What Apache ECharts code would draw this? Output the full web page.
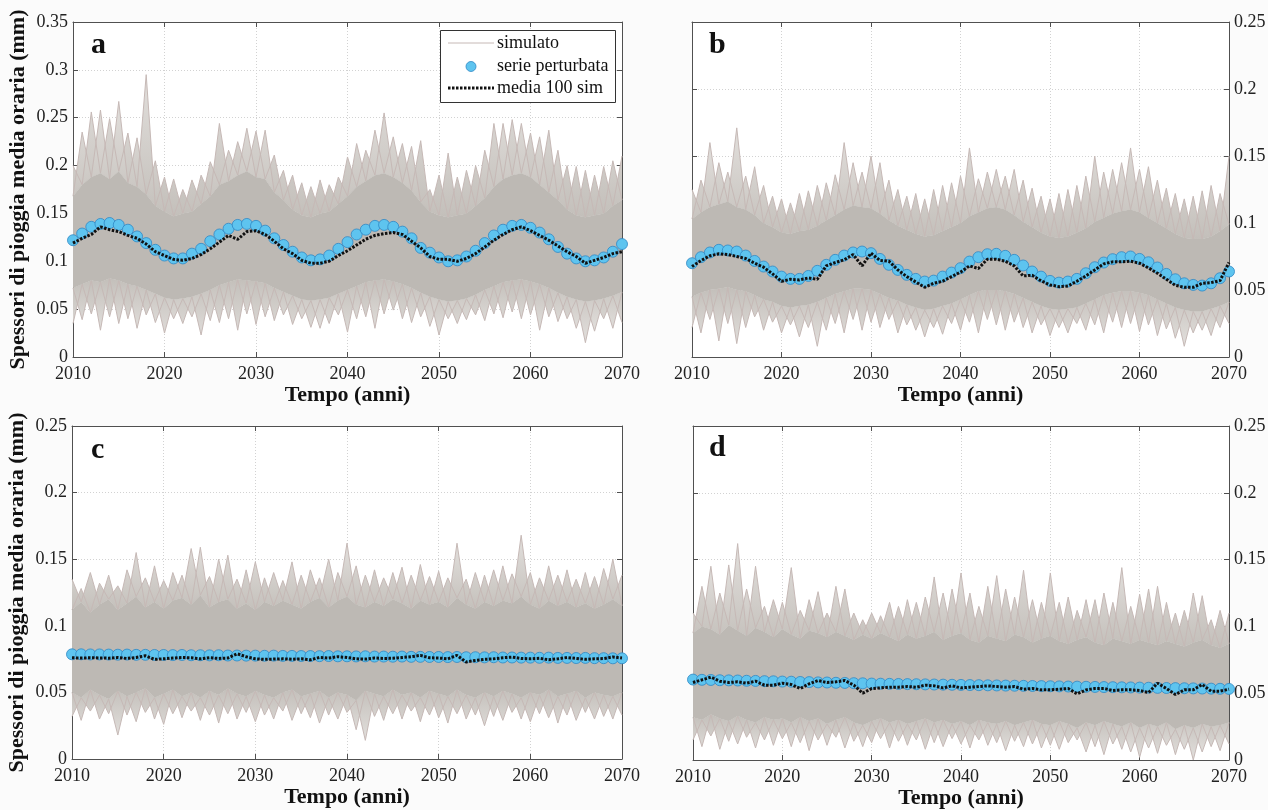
<!DOCTYPE html>
<html>
<head>
<meta charset="utf-8">
<script src="https://cdn.jsdelivr.net/npm/echarts@6/dist/echarts.min.js"></script>
<style>
html,body{margin:0;padding:0;background:#fbfbfb;}
#chart{width:1268px;height:810px;}
</style>
</head>
<body>
<div id="chart"></div>
<script>
// Years on the horizontal axis
const years = [
  2010,2011,2012,2013,2014,2015,2016,2017,2018,2019,
  2020,2021,2022,2023,2024,2025,2026,2027,2028,2029,
  2030,2031,2032,2033,2034,2035,2036,2037,2038,2039,
  2040,2041,2042,2043,2044,2045,2046,2047,2048,2049,
  2050,2051,2052,2053,2054,2055,2056,2057,2058,2059,
  2060,2061,2062,2063,2064,2065,2066,2067,2068,2069,2070
];

// ---- Panel a ----
const aSerie = [
  0.122,0.129,0.136,0.139,0.140,0.138,0.133,0.126,0.119,0.112,
  0.106,0.103,0.103,0.108,0.113,0.121,0.128,0.134,0.138,0.139,
  0.137,0.132,0.124,0.117,0.110,0.104,0.101,0.102,0.106,0.113,
  0.120,0.128,0.133,0.137,0.138,0.136,0.131,0.124,0.114,0.109,
  0.104,0.100,0.101,0.105,0.111,0.119,0.127,0.133,0.137,0.138,
  0.135,0.130,0.123,0.115,0.108,0.103,0.100,0.101,0.104,0.110,0.118
];
const aMedia = [
  0.119,0.124,0.128,0.136,0.133,0.131,0.127,0.124,0.118,0.110,
  0.106,0.102,0.101,0.103,0.107,0.113,0.120,0.127,0.123,0.131,
  0.132,0.128,0.121,0.113,0.108,0.101,0.098,0.098,0.100,0.106,
  0.111,0.117,0.123,0.127,0.129,0.130,0.128,0.121,0.114,0.105,
  0.102,0.102,0.100,0.103,0.108,0.115,0.122,0.128,0.133,0.136,
  0.132,0.127,0.122,0.116,0.110,0.105,0.098,0.101,0.104,0.108,0.110
];
const aPicco = [
  0.200,0.235,0.256,0.258,0.249,0.267,0.234,0.229,0.295,0.205,
  0.188,0.186,0.175,0.185,0.190,0.204,0.244,0.216,0.225,0.239,
  0.236,0.237,0.211,0.195,0.190,0.182,0.178,0.185,0.180,0.188,
  0.209,0.223,0.216,0.237,0.255,0.230,0.223,0.220,0.226,0.175,
  0.190,0.213,0.188,0.195,0.200,0.216,0.244,0.244,0.248,0.244,
  0.234,0.230,0.237,0.216,0.200,0.199,0.195,0.190,0.199,0.205,0.210
];
const aCoreHi = [
  0.168,0.180,0.188,0.192,0.186,0.194,0.182,0.178,0.170,0.158,
  0.152,0.147,0.150,0.152,0.160,0.168,0.180,0.184,0.190,0.194,
  0.188,0.186,0.172,0.164,0.154,0.148,0.146,0.150,0.152,0.160,
  0.168,0.178,0.184,0.190,0.192,0.188,0.182,0.174,0.162,0.152,
  0.148,0.146,0.148,0.150,0.158,0.166,0.178,0.186,0.190,0.192,
  0.188,0.180,0.172,0.164,0.154,0.148,0.146,0.148,0.150,0.158,0.164
];
const aCoreLo = [
  0.072,0.076,0.080,0.078,0.082,0.080,0.076,0.074,0.070,0.066,
  0.062,0.060,0.061,0.063,0.066,0.070,0.075,0.078,0.081,0.080,
  0.079,0.077,0.072,0.068,0.064,0.060,0.059,0.060,0.062,0.066,
  0.070,0.074,0.078,0.080,0.081,0.079,0.076,0.072,0.067,0.063,
  0.060,0.058,0.059,0.061,0.065,0.070,0.074,0.078,0.080,0.081,
  0.079,0.076,0.072,0.067,0.063,0.060,0.058,0.059,0.061,0.064,0.068
];
const aFondo = [
  0.035,0.039,0.045,0.028,0.042,0.035,0.040,0.030,0.044,0.036,
  0.025,0.040,0.035,0.042,0.023,0.038,0.036,0.040,0.028,0.045,
  0.034,0.042,0.038,0.044,0.034,0.040,0.031,0.030,0.035,0.044,
  0.026,0.040,0.042,0.030,0.045,0.049,0.040,0.036,0.042,0.032,
  0.023,0.040,0.035,0.039,0.044,0.038,0.045,0.041,0.047,0.040,
  0.044,0.028,0.042,0.037,0.040,0.030,0.015,0.027,0.040,0.030,0.036
];

// ---- Panel b ----
const bSerie = [
  0.0700,0.0745,0.0780,0.0800,0.0795,0.0787,0.0757,0.0717,0.0675,0.0638,
  0.0600,0.0583,0.0583,0.0605,0.0643,0.0688,0.0725,0.0757,0.0780,0.0787,
  0.0775,0.0732,0.0688,0.0650,0.0613,0.0583,0.0563,0.0570,0.0600,0.0630,
  0.0663,0.0712,0.0745,0.0767,0.0770,0.0755,0.0725,0.0683,0.0638,0.0600,
  0.0568,0.0555,0.0563,0.0583,0.0625,0.0670,0.0705,0.0730,0.0745,0.0750,
  0.0732,0.0707,0.0668,0.0620,0.0580,0.0550,0.0538,0.0533,0.0550,0.0588,0.0638
];
const bMedia = [
  0.0675,0.0720,0.0755,0.0770,0.0765,0.0750,0.0735,0.0700,0.0670,0.0620,
  0.0565,0.0580,0.0575,0.0590,0.0580,0.0680,0.0705,0.0725,0.0765,0.0680,
  0.0775,0.0720,0.0715,0.0650,0.0600,0.0560,0.0520,0.0550,0.0565,0.0600,
  0.0633,0.0680,0.0660,0.0730,0.0730,0.0715,0.0680,0.0605,0.0610,0.0568,
  0.0538,0.0525,0.0530,0.0565,0.0605,0.0650,0.0695,0.0710,0.0710,0.0715,
  0.0700,0.0665,0.0625,0.0580,0.0535,0.0520,0.0520,0.0550,0.0555,0.0570,0.0705
];
const bPicco = [
  0.125,0.132,0.160,0.145,0.138,0.171,0.135,0.142,0.128,0.120,
  0.118,0.115,0.122,0.124,0.128,0.130,0.136,0.160,0.145,0.138,
  0.150,0.145,0.132,0.125,0.120,0.122,0.118,0.125,0.128,0.130,
  0.135,0.156,0.133,0.138,0.140,0.135,0.140,0.132,0.126,0.120,
  0.118,0.122,0.125,0.128,0.135,0.150,0.138,0.140,0.145,0.156,
  0.140,0.142,0.132,0.126,0.122,0.118,0.120,0.124,0.128,0.122,0.150
];
const bCoreHi = [
  0.103,0.108,0.112,0.114,0.116,0.112,0.110,0.106,0.100,0.097,
  0.093,0.092,0.094,0.095,0.098,0.102,0.106,0.110,0.113,0.112,
  0.111,0.107,0.102,0.098,0.095,0.092,0.090,0.091,0.094,0.097,
  0.100,0.105,0.108,0.111,0.112,0.110,0.106,0.101,0.097,0.093,
  0.090,0.089,0.090,0.093,0.096,0.101,0.104,0.107,0.109,0.110,
  0.108,0.104,0.100,0.096,0.092,0.089,0.088,0.088,0.090,0.094,0.099
];
const bCoreLo = [
  0.045,0.048,0.050,0.051,0.052,0.050,0.049,0.046,0.043,0.041,
  0.038,0.037,0.038,0.039,0.041,0.044,0.047,0.049,0.051,0.051,
  0.050,0.047,0.044,0.042,0.039,0.037,0.035,0.036,0.038,0.040,
  0.043,0.046,0.049,0.050,0.050,0.049,0.047,0.044,0.041,0.038,
  0.036,0.035,0.036,0.037,0.040,0.043,0.046,0.048,0.049,0.049,
  0.048,0.046,0.043,0.040,0.037,0.035,0.034,0.034,0.036,0.038,0.041
];
const bFondo = [
  0.022,0.018,0.028,0.012,0.025,0.010,0.022,0.030,0.020,0.026,
  0.018,0.024,0.015,0.022,0.008,0.020,0.025,0.018,0.028,0.020,
  0.026,0.022,0.028,0.018,0.024,0.020,0.015,0.022,0.017,0.025,
  0.020,0.026,0.018,0.028,0.024,0.020,0.026,0.022,0.018,0.024,
  0.016,0.022,0.018,0.025,0.020,0.024,0.018,0.026,0.022,0.025,
  0.019,0.024,0.016,0.021,0.014,0.008,0.018,0.020,0.016,0.022,0.025
];

// ---- Panel c ----
const cSerie = [
  0.0786,0.0786,0.0785,0.0785,0.0784,0.0783,0.0784,0.0782,0.0782,0.0781,
  0.0781,0.0780,0.0781,0.0779,0.0779,0.0778,0.0779,0.0777,0.0777,0.0776,
  0.0776,0.0775,0.0776,0.0774,0.0774,0.0773,0.0773,0.0772,0.0773,0.0771,
  0.0771,0.0770,0.0771,0.0769,0.0769,0.0768,0.0769,0.0767,0.0767,0.0766,
  0.0766,0.0765,0.0766,0.0764,0.0764,0.0763,0.0764,0.0762,0.0762,0.0761,
  0.0761,0.0760,0.0761,0.0759,0.0759,0.0758,0.0759,0.0757,0.0757,0.0756,0.0756
];
const cMedia = [
  0.0760,0.0758,0.0760,0.0759,0.0757,0.0762,0.0755,0.0762,0.0775,0.0748,
  0.0752,0.0758,0.0762,0.0760,0.0752,0.0760,0.0755,0.0758,0.0790,0.0768,
  0.0752,0.0748,0.0750,0.0752,0.0749,0.0752,0.0745,0.0762,0.0758,0.0768,
  0.0762,0.0752,0.0750,0.0758,0.0755,0.0756,0.0762,0.0768,0.0778,0.0760,
  0.0758,0.0752,0.0778,0.0728,0.0740,0.0748,0.0752,0.0760,0.0765,0.0755,
  0.0752,0.0756,0.0745,0.0752,0.0762,0.0755,0.0748,0.0752,0.0754,0.0766,0.0758
];
const cPicco = [
  0.135,0.128,0.140,0.132,0.138,0.130,0.142,0.155,0.136,0.145,
  0.134,0.140,0.138,0.158,0.159,0.137,0.150,0.153,0.135,0.142,
  0.148,0.136,0.140,0.134,0.148,0.138,0.142,0.136,0.150,0.140,
  0.162,0.145,0.138,0.142,0.136,0.140,0.144,0.138,0.146,0.137,
  0.141,0.136,0.162,0.135,0.140,0.138,0.142,0.145,0.139,0.168,
  0.140,0.136,0.145,0.138,0.142,0.135,0.140,0.137,0.143,0.150,0.138
];
const cCoreHi = [
  0.112,0.118,0.110,0.116,0.120,0.112,0.117,0.122,0.114,0.118,
  0.113,0.119,0.121,0.116,0.123,0.114,0.118,0.120,0.113,0.117,
  0.112,0.118,0.115,0.119,0.116,0.113,0.118,0.121,0.114,0.119,
  0.122,0.116,0.114,0.118,0.115,0.120,0.117,0.113,0.119,0.116,
  0.118,0.114,0.121,0.116,0.113,0.118,0.115,0.119,0.117,0.122,
  0.116,0.113,0.119,0.115,0.118,0.114,0.117,0.113,0.116,0.120,0.115
];
const cCoreLo = [
  0.050,0.046,0.052,0.048,0.045,0.051,0.047,0.050,0.053,0.046,
  0.049,0.052,0.047,0.050,0.046,0.051,0.048,0.053,0.049,0.047,
  0.051,0.048,0.046,0.050,0.052,0.047,0.049,0.051,0.046,0.050,
  0.048,0.044,0.051,0.049,0.047,0.052,0.048,0.050,0.046,0.051,
  0.049,0.047,0.052,0.048,0.046,0.050,0.047,0.051,0.049,0.046,
  0.050,0.048,0.052,0.047,0.049,0.051,0.046,0.050,0.048,0.047,0.050
];
const cFondo = [
  0.032,0.029,0.036,0.030,0.034,0.018,0.033,0.028,0.035,0.030,
  0.026,0.034,0.031,0.036,0.029,0.033,0.027,0.034,0.030,0.035,
  0.028,0.033,0.030,0.036,0.029,0.034,0.031,0.027,0.033,0.030,
  0.035,0.022,0.014,0.032,0.029,0.034,0.030,0.036,0.028,0.033,
  0.031,0.027,0.034,0.030,0.033,0.025,0.032,0.029,0.035,0.030,
  0.028,0.034,0.031,0.027,0.033,0.029,0.035,0.030,0.032,0.030,0.033
];

// ---- Panel d ----
const dSerie = [
  0.0602,0.0600,0.0599,0.0597,0.0596,0.0595,0.0593,0.0592,0.0590,0.0589,
  0.0587,0.0586,0.0584,0.0583,0.0581,0.0580,0.0578,0.0577,0.0575,0.0574,
  0.0572,0.0571,0.0570,0.0569,0.0568,0.0567,0.0566,0.0565,0.0564,0.0563,
  0.0562,0.0561,0.0560,0.0559,0.0558,0.0557,0.0556,0.0555,0.0554,0.0553,
  0.0552,0.0551,0.0550,0.0549,0.0548,0.0547,0.0546,0.0545,0.0544,0.0543,
  0.0542,0.0541,0.0540,0.0539,0.0538,0.0537,0.0536,0.0535,0.0534,0.0533,0.0532
];
const dMedia = [
  0.0580,0.0600,0.0620,0.0590,0.0580,0.0585,0.0575,0.0590,0.0560,0.0560,
  0.0575,0.0565,0.0535,0.0570,0.0595,0.0580,0.0585,0.0595,0.0560,0.0500,
  0.0535,0.0540,0.0545,0.0545,0.0550,0.0545,0.0560,0.0555,0.0540,0.0555,
  0.0540,0.0545,0.0550,0.0555,0.0550,0.0545,0.0550,0.0530,0.0535,0.0525,
  0.0525,0.0530,0.0535,0.0495,0.0525,0.0535,0.0535,0.0520,0.0525,0.0525,
  0.0520,0.0505,0.0575,0.0535,0.0490,0.0525,0.0525,0.0565,0.0515,0.0515,0.0530
];
const dPicco = [
  0.110,0.130,0.145,0.125,0.146,0.162,0.128,0.145,0.115,0.120,
  0.118,0.144,0.112,0.120,0.126,0.110,0.130,0.128,0.110,0.105,
  0.110,0.108,0.118,0.115,0.120,0.118,0.122,0.137,0.125,0.128,
  0.140,0.125,0.115,0.130,0.138,0.128,0.122,0.142,0.120,0.118,
  0.140,0.118,0.122,0.112,0.120,0.120,0.125,0.118,0.144,0.115,
  0.124,0.128,0.130,0.118,0.110,0.112,0.125,0.123,0.105,0.112,0.110
];
const dCoreHi = [
  0.095,0.100,0.098,0.094,0.101,0.097,0.093,0.099,0.096,0.092,
  0.098,0.094,0.091,0.097,0.095,0.092,0.096,0.093,0.090,0.094,
  0.091,0.095,0.092,0.089,0.094,0.091,0.093,0.096,0.090,0.093,
  0.095,0.090,0.088,0.093,0.091,0.089,0.094,0.092,0.088,0.091,
  0.093,0.089,0.087,0.090,0.092,0.088,0.086,0.091,0.089,0.087,
  0.090,0.088,0.086,0.089,0.087,0.085,0.088,0.090,0.086,0.084,0.087
];
const dCoreLo = [
  0.032,0.030,0.034,0.031,0.029,0.033,0.030,0.028,0.032,0.030,
  0.031,0.028,0.032,0.029,0.031,0.027,0.030,0.032,0.028,0.026,
  0.029,0.031,0.028,0.030,0.027,0.029,0.031,0.028,0.030,0.027,
  0.029,0.026,0.030,0.028,0.027,0.029,0.026,0.028,0.030,0.027,
  0.026,0.029,0.027,0.024,0.028,0.026,0.029,0.027,0.025,0.028,
  0.024,0.027,0.025,0.028,0.023,0.026,0.024,0.027,0.025,0.026,0.028
];
const dFondo = [
  0.015,0.010,0.018,0.008,0.014,0.012,0.017,0.009,0.015,0.011,
  0.016,0.010,0.013,0.007,0.015,0.011,0.017,0.009,0.014,0.010,
  0.013,0.016,0.009,0.014,0.011,0.015,0.008,0.013,0.010,0.016,
  0.012,0.009,0.015,0.011,0.013,0.007,0.014,0.010,0.012,0.009,
  0.011,0.008,0.013,0.015,0.006,0.010,0.004,0.012,0.008,0.006,
  0.002,0.009,0.005,0.011,0.004,0.008,0.000,0.006,0.010,0.007,0.012
];

// Text
const X_TITLE = 'Tempo (anni)';
const Y_TITLE = 'Spessori di pioggia media oraria (mm)';
const LEGEND = ['simulato', 'serie perturbata', 'media 100 sim'];

// Layout and styling of the four panels
const SERIF = '"Liberation Serif","Times New Roman",serif';
const AXIS = '#505050';
const GRIDLINE = '#d2d2d2';
const CORE = '#bdb9b4';
const SPIKE_DENSE = '#c3bfba';
const SPIKE_LIGHT = '#e2dfdc';
const SPIKE_EDGE = '#c6b9b6';
const BLUE = '#5ec4ef';
const BLUE_EDGE = '#2f88c5';

const panels = [
  { id:'a', box:{left:73,  top:22,  width:549, height:335}, yMax:0.35, side:'left',  yTitle:true,
    serie:aSerie, media:aMedia, picco:aPicco, coreHi:aCoreHi, coreLo:aCoreLo, fondo:aFondo, letterAt:[91,60] },
  { id:'b', box:{left:692, top:22,  width:537, height:335}, yMax:0.25, side:'right', yTitle:false,
    serie:bSerie, media:bMedia, picco:bPicco, coreHi:bCoreHi, coreLo:bCoreLo, fondo:bFondo, letterAt:[709,60] },
  { id:'c', box:{left:72,  top:426, width:550, height:333}, yMax:0.25, side:'left',  yTitle:true,
    serie:cSerie, media:cMedia, picco:cPicco, coreHi:cCoreHi, coreLo:cCoreLo, fondo:cFondo, letterAt:[91,465] },
  { id:'d', box:{left:693, top:426, width:536, height:334}, yMax:0.25, side:'right', yTitle:false,
    serie:dSerie, media:dMedia, picco:dPicco, coreHi:dCoreHi, coreLo:dCoreLo, fondo:dFondo, letterAt:[709,463] }
];

const grid = [], xAxis = [], yAxis = [], series = [], graphic = [];

const tickLabel = { fontFamily:SERIF, fontSize:18, color:'#222' };
const hidden = { opacity:0 };

// vertical fade: dense next to the core, light at the extremes
function fade(lightOnTop) {
  const stops = lightOnTop
    ? [{ offset:0, color:SPIKE_LIGHT }, { offset:1, color:SPIKE_DENSE }]
    : [{ offset:0, color:SPIKE_DENSE }, { offset:1, color:SPIKE_LIGHT }];
  return new echarts.graphic.LinearGradient(0, 0, 0, 1, stops);
}

panels.forEach(function (p, g) {
  grid.push(Object.assign({ show:true, backgroundColor:'#ffffff', borderWidth:0, containLabel:false, outerBoundsMode:'none' }, p.box));

  const xBase = {
    gridIndex:g, type:'category', data:years, boundaryGap:false,
    axisLine:{ show:true, onZero:false, lineStyle:{ color:AXIS, width:1 } },
    axisTick:{ show:true, inside:true, interval:9, length:5, lineStyle:{ color:AXIS } }
  };
  xAxis.push(Object.assign({}, xBase, {
    position:'bottom',
    axisLabel:Object.assign({ show:true, interval:9, margin:8 }, tickLabel),
    splitLine:{ show:true, interval:9, lineStyle:{ color:GRIDLINE, type:[1,2], width:1 } },
    name:X_TITLE, nameLocation:'middle', nameGap:24,
    nameTextStyle:{ fontFamily:SERIF, fontWeight:'bold', fontSize:22, color:'#111' }
  }));
  xAxis.push(Object.assign({}, xBase, {
    position:'top', axisLabel:{ show:false }, splitLine:{ show:false }
  }));

  const yBase = {
    gridIndex:g, type:'value', min:0, max:p.yMax, interval:0.05,
    axisLine:{ show:true, onZero:false, lineStyle:{ color:AXIS, width:1 } },
    axisTick:{ show:true, inside:true, length:5, lineStyle:{ color:AXIS } }
  };
  const yMain = Object.assign({}, yBase, {
    position:p.side,
    axisLabel:Object.assign({ show:true, margin:5 }, tickLabel),
    splitLine:{ show:true, lineStyle:{ color:GRIDLINE, type:[1,2], width:1 } }
  });
  if (p.yTitle) {
    Object.assign(yMain, {
      name:Y_TITLE, nameLocation:'middle', nameGap:44, nameRotate:90,
      nameTextStyle:{ fontFamily:SERIF, fontWeight:'bold', fontSize:22, color:'#111' }
    });
  }
  yAxis.push(yMain);
  yAxis.push(Object.assign({}, yBase, {
    position:p.side === 'left' ? 'right' : 'left', axisLabel:{ show:false }, splitLine:{ show:false }
  }));

  const on = { xAxisIndex:2 * g, yAxisIndex:2 * g, silent:true, animation:false, symbol:'none' };

  // filled band between two profiles, drawn as a two-layer stack
  function band(stack, lower, upper, fill, lowerEdge, upperEdge, z) {
    series.push(Object.assign({}, on, {
      type:'line', stack:stack, data:lower, z:z,
      lineStyle: lowerEdge ? { color:SPIKE_EDGE, width:1 } : hidden
    }));
    series.push(Object.assign({}, on, {
      type:'line', stack:stack, z:z,
      data: upper.map(function (v, i) { return +(v - lower[i]).toFixed(4); }),
      areaStyle:{ color:fill, opacity:1 },
      lineStyle: upperEdge ? { color:SPIKE_EDGE, width:1 } : hidden
    }));
  }

  // simulated runs: extreme peaks and dips alternate year by year around the dense core
  const upEven = p.picco.map(function (v, i) { return i % 2 === 0 ? v : p.coreHi[i]; });
  const upOdd  = p.picco.map(function (v, i) { return i % 2 === 1 ? v : p.coreHi[i]; });
  const dnEven = p.fondo.map(function (v, i) { return i % 2 === 0 ? v : p.coreLo[i]; });
  const dnOdd  = p.fondo.map(function (v, i) { return i % 2 === 1 ? v : p.coreLo[i]; });

  band(p.id + 'u0', p.coreHi, upEven, fade(true),  false, true, 1);
  band(p.id + 'u1', p.coreHi, upOdd,  fade(true),  false, true, 1);
  band(p.id + 'd0', dnEven, p.coreLo, fade(false), true, false, 1);
  band(p.id + 'd1', dnOdd,  p.coreLo, fade(false), true, false, 1);
  band(p.id + 'core', p.coreLo, p.coreHi, CORE, false, false, 2);

  // perturbed series
  series.push({
    type:'scatter', xAxisIndex:2 * g, yAxisIndex:2 * g, silent:true, animation:false,
    data:p.serie, symbol:'circle', symbolSize:11, z:5,
    itemStyle:{ color:BLUE, borderColor:BLUE_EDGE, borderWidth:0.8, opacity:1 }
  });
  // ensemble mean of 100 simulations
  series.push(Object.assign({}, on, {
    type:'line', data:p.media, z:6,
    lineStyle:{ color:'#111', width:3, type:[2.5, 1.5] }
  }));

  graphic.push({
    type:'text', x:p.letterAt[0], y:p.letterAt[1], z:100,
    style:{ text:p.id, font:'bold 30px ' + SERIF, fill:'#111', verticalAlign:'bottom' }
  });
});

// legend of panel a
const lg = { x:440, y:30, w:175, h:72 };
graphic.push(
  { type:'rect', z:100, shape:{ x:lg.x + 0.5, y:lg.y + 0.5, width:lg.w, height:lg.h },
    style:{ fill:'#ffffff', stroke:'#333', lineWidth:1 } },
  { type:'line', z:101, shape:{ x1:448, y1:43, x2:494, y2:43 }, style:{ stroke:SPIKE_EDGE, lineWidth:1 } },
  { type:'circle', z:101, shape:{ cx:471, cy:66.5, r:5 }, style:{ fill:BLUE, stroke:BLUE_EDGE, lineWidth:0.8 } },
  { type:'line', z:101, shape:{ x1:448, y1:88, x2:494, y2:88 }, style:{ stroke:'#111', lineWidth:3, lineDash:[2.5, 1.5] } },
  { type:'text', z:101, x:497, y:43, style:{ text:LEGEND[0], font:'18px ' + SERIF, fill:'#111', verticalAlign:'middle' } },
  { type:'text', z:101, x:497, y:66.5, style:{ text:LEGEND[1], font:'18px ' + SERIF, fill:'#111', verticalAlign:'middle' } },
  { type:'text', z:101, x:497, y:88, style:{ text:LEGEND[2], font:'18px ' + SERIF, fill:'#111', verticalAlign:'middle' } }
);

const chart = echarts.init(document.getElementById('chart'), null, { renderer:'canvas' });
chart.setOption({
  backgroundColor:'#fbfbfb',
  animation:false,
  grid:grid, xAxis:xAxis, yAxis:yAxis, series:series, graphic:graphic
});
</script>
</body>
</html>
